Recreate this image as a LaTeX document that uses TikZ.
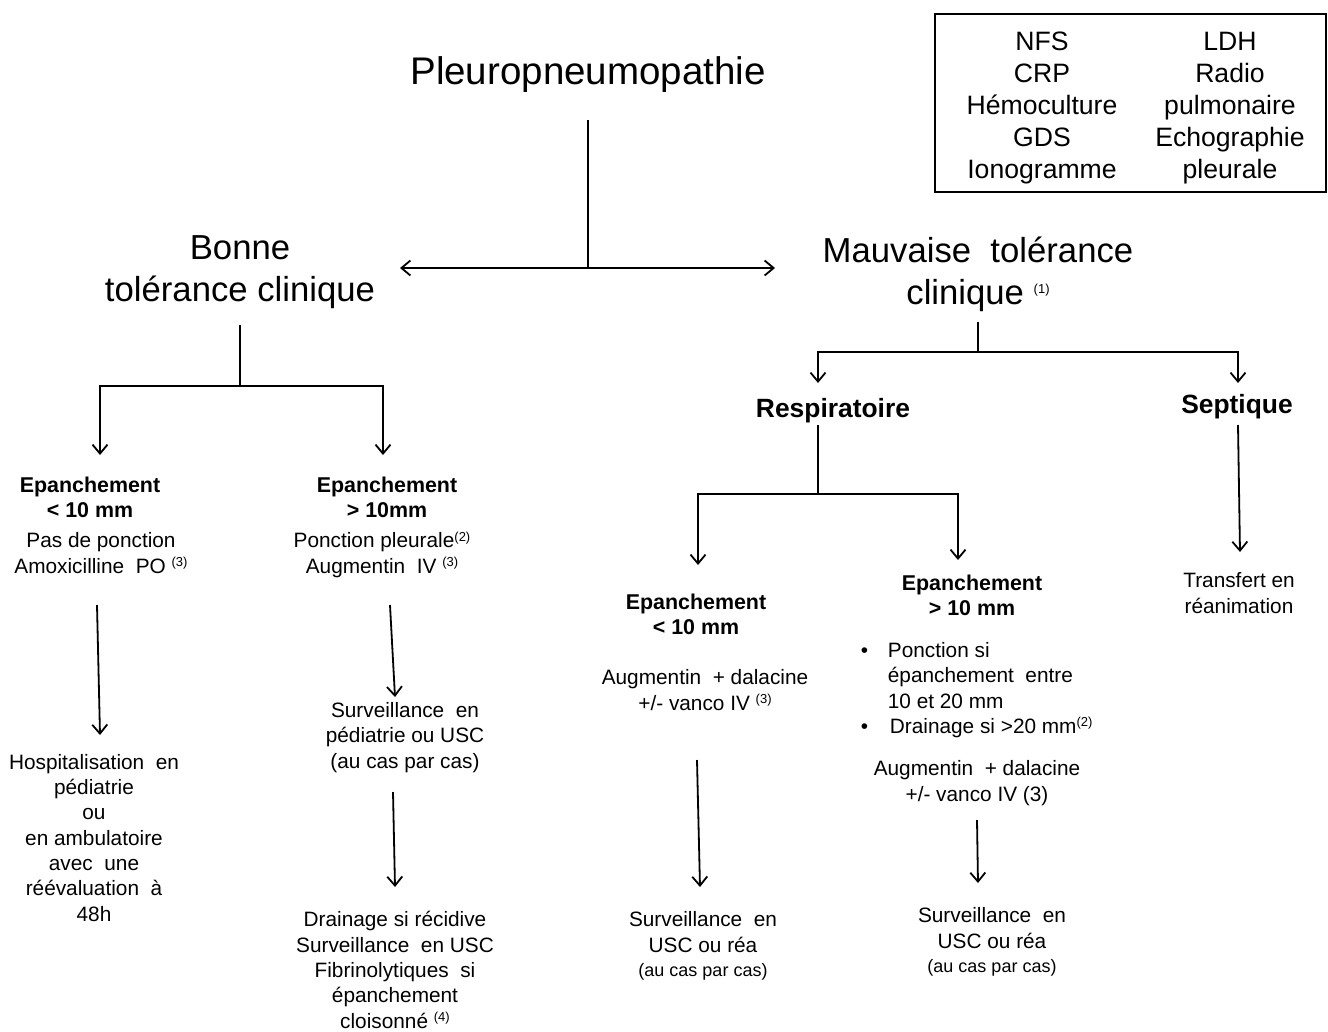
\documentclass[tikz,border=0pt]{standalone}
\usepackage{fontspec}
\setmainfont{Liberation Sans}
\usetikzlibrary{arrows.meta}

\newcommand\fnref[1]{\raisebox{0.3em}{\fontsize{13}{13}\selectfont(#1)}}

\tikzset{
  fs/.style 2 args={font=\fontsize{#1}{#2}\selectfont},
  lbl/.style={inner sep=0pt,anchor=base,align=center},
  titletxt/.style={lbl,fs={38.5}{46}},
  bigtxt/.style={lbl,fs={34.7}{42}},
  boxtxt/.style={lbl,fs={26.6}{32}},
  branchtxt/.style={lbl,font=\fontsize{26.4}{32}\selectfont\bfseries},
  headtxt/.style={lbl,font=\fontsize{21.4}{25}\selectfont\bfseries},
  bodytxt/.style={lbl,fs={20.8}{25.3}},
  smalltxt/.style={lbl,fs={18}{22}},
}

\begin{document}
\begin{tikzpicture}[x=1pt,y=-1pt,line width=1.8pt,
    >={Straight Barb[length=9pt,width=15pt]}]
  \useasboundingbox (0,0) rectangle (1328,1031);

  % titles (base = last line)
  \node[titletxt] (patho) at (588,84) {Pleuropneumopathie};
  \node[bigtxt] (bonne) at (240,301) {Bonne\\tolérance clinique};
  \node[bigtxt] (mauv) at (978,304) {Mauvaise\ \ tolérance\\clinique\ \fnref{1}};

  % bilan
  \draw[line width=1.3pt] (935,14) rectangle (1326,192);
  \node[boxtxt] (bilanA) at (1042,178) {NFS\\CRP\\Hémoculture\\GDS\\Ionogramme};
  \node[boxtxt] (bilanB) at (1230,178) {LDH\\Radio\\pulmonaire\\Echographie\\pleurale};

  % branches
  \node[branchtxt] (resp) at (833,417) {Respiratoire};
  \node[branchtxt] (sept) at (1237,413) {Septique};

  % bonne tolerance
  \node[headtxt] (bmoins) at (90,517) {Epanchement\\< 10 mm};
  \node[bodytxt] (bmoinsT) at (101,573) {Pas de ponction\\Amoxicilline\ \ PO\ \fnref{3}};
  \node[bodytxt] (hospit) at (94,921) {Hospitalisation\ \ en\\pédiatrie\\ou\\en ambulatoire\\avec\ \ une\\réévaluation\ \ à\\48h};
  \node[headtxt] (bplus) at (387,517) {Epanchement\\> 10mm};
  \node[bodytxt] (bplusT) at (382,573) {Ponction pleurale\fnref{2}\\Augmentin\ \ IV\ \fnref{3}};
  \node[bodytxt] (bsurv) at (405,768) {Surveillance\ \ en\\pédiatrie ou USC\\(au cas par cas)};
  \node[bodytxt] (bdrain) at (395,1028) {Drainage si récidive\\Surveillance\ \ en USC\\Fibrinolytiques\ \ si\\épanchement\\cloisonné\ \fnref{4}};

  % mauvaise tolerance, respiratoire
  \node[headtxt] (rmoins) at (696,634) {Epanchement\\< 10 mm};
  \node[bodytxt] (rmoinsT) at (705,710) {Augmentin\ \ + dalacine\\+/- vanco IV\ \fnref{3}};
  \node[bodytxt] (rmsurv) at (703,952) {Surveillance\ \ en\\USC ou réa};
  \node[smalltxt] (rmcas) at (703,976) {(au cas par cas)};
  \node[headtxt] (rplus) at (972,615) {Epanchement\\> 10 mm};
  \node[bodytxt,anchor=base west] (puce1) at (860,657) {•};
  \node[bodytxt,anchor=base west,align=left] (item1) at (887,708) {Ponction si\\épanchement\ \ entre\\10 et 20 mm};
  \node[bodytxt,anchor=base west] (puce2) at (860,733) {•};
  \node[bodytxt,anchor=base west] (item2) at (889,733) {Drainage si >20 mm\fnref{2}};
  \node[bodytxt] (rplusT) at (977,801) {Augmentin\ \ + dalacine\\+/- vanco IV (3)};
  \node[bodytxt] (rpsurv) at (992,948) {Surveillance\ \ en\\USC ou réa};
  \node[smalltxt] (rpcas) at (992,972) {(au cas par cas)};

  % septique
  \node[bodytxt] (transf) at (1239,613) {Transfert en\\réanimation};

  % connecteurs
  \coordinate (t1) at (588,120);
  \coordinate (t2) at (588,268);
  \coordinate (tl) at (400,268);
  \coordinate (tr) at (775,268);
  \draw (t1) -- (t2);
  \draw[<->] (tl) -- (tr);

  \coordinate (b1) at (240,325);
  \coordinate (b2) at (240,386);
  \coordinate (bl) at (100,386);
  \coordinate (br) at (383,386);
  \draw (b1) -- (b2);
  \draw[<->] (100,455) -- (bl) -- (br) -- (383,455);

  \coordinate (m1) at (978,322);
  \coordinate (m2) at (978,352);
  \coordinate (ml) at (818,352);
  \coordinate (mr) at (1238,352);
  \draw (m1) -- (m2);
  \draw[<->] (818,383) -- (ml) -- (mr) -- (1238,383);

  \coordinate (r1) at (818,425);
  \coordinate (r2) at (818,494);
  \coordinate (rl) at (698,494);
  \coordinate (rr) at (958,494);
  \draw (r1) -- (r2);
  \draw[<->] (698,565) -- (rl) -- (rr) -- (958,560);

  \coordinate (s1) at (1238,425);
  \coordinate (s2) at (1240,552);
  \draw[->] (s1) -- (s2);

  \coordinate (a1) at (97,605);   \coordinate (a2) at (100,735);
  \coordinate (c1) at (390,605);  \coordinate (c2) at (395,697);
  \coordinate (d1) at (393,792);  \coordinate (d2) at (395,887);
  \coordinate (e1) at (697,760);  \coordinate (e2) at (700,887);
  \coordinate (f1) at (977,820);  \coordinate (f2) at (978,883);
  \foreach \p/\q in {a1/a2,c1/c2,d1/d2,e1/e2,f1/f2}
    \draw[->] (\p) -- (\q);
\end{tikzpicture}
\end{document}
